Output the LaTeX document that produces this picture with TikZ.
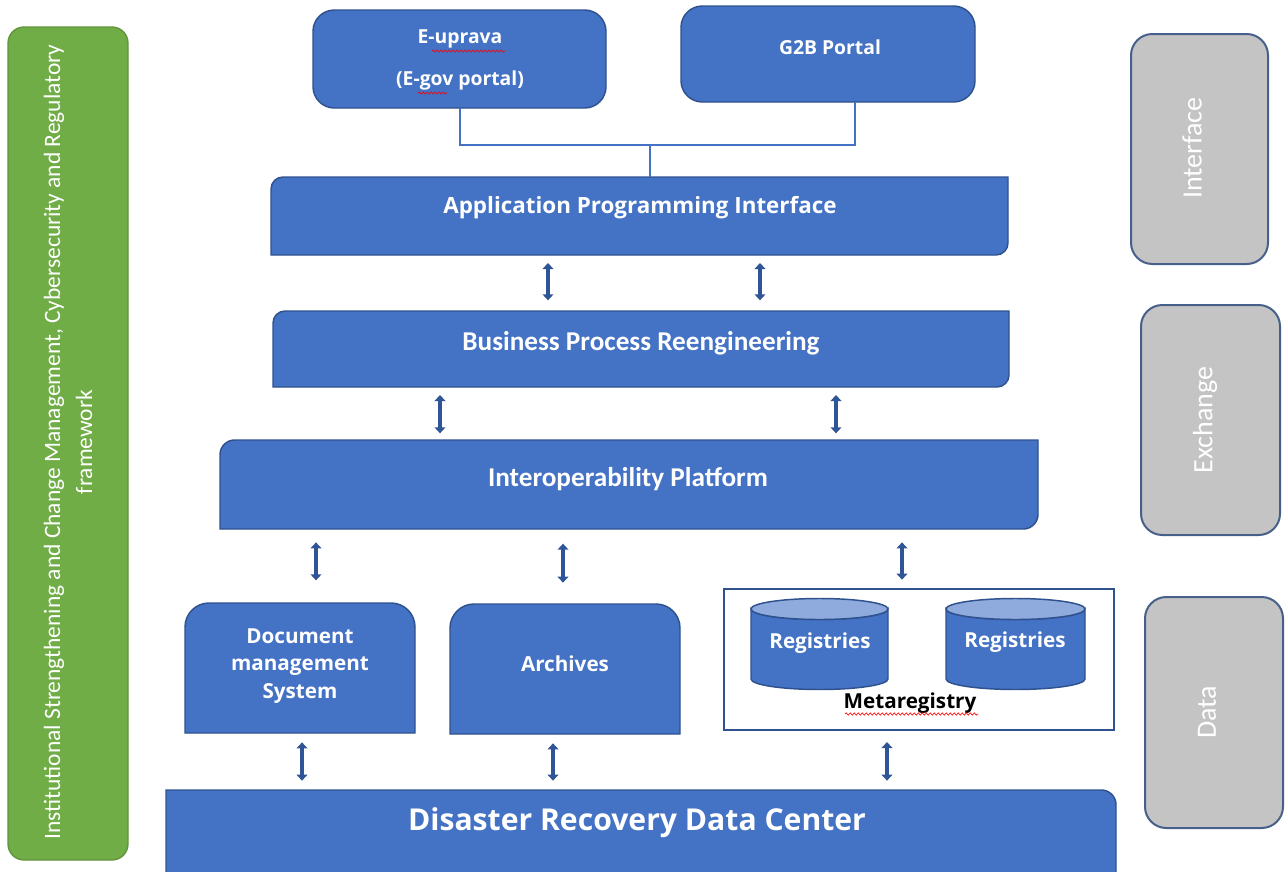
\documentclass[tikz,border=0pt]{standalone}
\usepackage{fontspec}
\setmainfont{Open Sans}
\newfontfamily\calfont{Carlito}
\usetikzlibrary{arrows.meta,fit,decorations.pathmorphing}

\definecolor{boxblue}{HTML}{4472C4}
\definecolor{edgeblue}{HTML}{2F528F}
\definecolor{arrowblue}{HTML}{2F5597}
\definecolor{lidblue}{HTML}{8FAADC}
\definecolor{sidegray}{HTML}{C4C4C4}
\definecolor{framegreen}{HTML}{70AD47}

% box with rounded top-left and bottom-right corners
\newcommand\paintdiag[2]{%
  \path[boxpaint] (#1.west) [rounded corners=#2] -- (#1.north west) -- (#1.north)
    [sharp corners] -- (#1.north east) -- (#1.east)
    [rounded corners=#2] -- (#1.south east) -- (#1.south)
    [sharp corners] -- (#1.south west) -- cycle;}
% box with both top corners rounded
\newcommand\painttop[2]{%
  \path[boxpaint] (#1.west) [rounded corners=#2] -- (#1.north west) -- (#1.north east) -- (#1.east)
    [sharp corners] -- (#1.south east) -- (#1.south west) -- cycle;}
% box with only the top-right corner rounded
\newcommand\paintne[2]{%
  \path[boxpaint] (#1.north) [rounded corners=#2] -- (#1.north east) -- (#1.east)
    [sharp corners] -- (#1.south east) -- (#1.south west) -- (#1.north west) -- cycle;}
% database cylinder: centre x, half width, top and bottom lid centres, lid half height
\newcommand\cyl[5]{%
  \path[fill=boxblue, draw=edgeblue, line width=1.1pt]
    ({#1-#2},#3) -- ({#1-#2},#4) arc[start angle=180, end angle=0, x radius=#2, y radius=#5]
    -- ({#1+#2},#3) arc[start angle=0, end angle=180, x radius=#2, y radius=#5] -- cycle;
  \path[fill=lidblue, draw=edgeblue, line width=1.1pt] (#1,#3) ellipse[x radius=#2, y radius=#5];}

\begin{document}
\begin{tikzpicture}[x=0.75pt, y=-0.75pt,
  area/.style={inner sep=0pt, outer sep=0pt},
  boxpaint/.style={fill=boxblue, draw=edgeblue, line width=1.1pt},
  sidepaint/.style={fill=sidegray, draw=edgeblue!70!gray, line width=1.5pt, rounded corners=16pt},
  lbl/.style={text=white, inner sep=0pt, align=center, font=\bfseries\fontsize{15.5}{18}\selectfont},
  toplbl/.style={lbl, font=\bfseries\fontsize{14.5}{31.5}\selectfont},
  callbl/.style={text=white, inner sep=0pt, align=center, font=\calfont\bfseries\fontsize{20.4}{24}\selectfont},
  sidelbl/.style={text=white, inner sep=0pt, rotate=90, font=\calfont\fontsize{21}{24}\selectfont},
  link/.style={draw=boxblue, line width=1.5pt},
  dbl/.style={draw=arrowblue, line width=2.6pt,
    {Triangle[width=8pt,length=4.5pt]}-{Triangle[width=8pt,length=4.5pt]}},
  spell/.style={draw=red, line width=0.5pt, decorate,
    decoration={snake, amplitude=0.8pt, segment length=3pt}}
]
\useasboundingbox (0,0) rectangle (1285,871);

% ---- outlines of all blocks
\node[area, fit={(8,27) (128,860)}] (frame) {};
\node[area, fit={(1131,34) (1268,264)}] (sideA) {};
\node[area, fit={(1141,305) (1280,535)}] (sideB) {};
\node[area, fit={(1145,597) (1283,828)}] (sideC) {};
\node[area, fit={(313,10) (606,108)}] (eup) {};
\node[area, fit={(681,6) (975,102)}] (g2b) {};
\node[area, fit={(271,177) (1008,255)}] (api) {};
\node[area, fit={(273,311) (1009,387)}] (bpr) {};
\node[area, fit={(220,440) (1038,529)}] (iop) {};
\node[area, fit={(185,603) (415,733)}] (dms) {};
\node[area, fit={(450,604) (680,734)}] (arc) {};
\node[area, fit={(724,589) (1114,730)}] (meta) {};
\node[area, fit={(166,790) (1116,900)}] (drdc) {};

% ---- side bands
\path[fill=framegreen, draw=framegreen!85!black, line width=1pt, rounded corners=12pt]
  (frame.north west) rectangle (frame.south east);
\path[sidepaint] (sideA.north west) rectangle (sideA.south east);
\path[sidepaint] (sideB.north west) rectangle (sideB.south east);
\path[sidepaint] (sideC.north west) rectangle (sideC.south east);

% ---- blue blocks
\path[boxpaint, rounded corners=16pt] (eup.north west) rectangle (eup.south east);
\path[boxpaint, rounded corners=16pt] (g2b.north west) rectangle (g2b.south east);
\paintdiag{api}{9pt}
\paintdiag{bpr}{9pt}
\paintdiag{iop}{11pt}
\painttop{dms}{18pt}
\painttop{arc}{18pt}
\path[fill=white, draw=edgeblue, line width=1.1pt] (meta.north west) rectangle (meta.south east);
\paintne{drdc}{11pt}
\cyl{819.5}{68.5}{609}{679}{10.5}
\cyl{1015.5}{69.5}{609}{679}{10.5}

% ---- labels
\node[text=white, inner sep=0pt, rotate=90, align=center,
  font=\calfont\fontsize{17.6}{24}\selectfont] (frametxt) at (68,442)
  {Institutional Strengthening and Change Management, Cybersecurity and Regulatory\\framework};
\node[sidelbl] (sideAt) at (1192,148) {Interface};
\node[sidelbl] (sideBt) at (1205,420) {Exchange};
\node[sidelbl] (sideCt) at (1207,712) {Data};

\node[toplbl] (eupt) at (460,60) {E-uprava\\(E-gov portal)};
\node[toplbl] (g2bt) at (830,47) {G2B Portal};
\node[lbl, font=\bfseries\fontsize{16.8}{20}\selectfont] (apit) at (640,208) {Application Programming Interface};
\node[callbl] (bprt) at (641,343) {Business Process Reengineering};
\node[callbl] (iopt) at (628,479) {Interoperability Platform};
\node[lbl, font=\bfseries\fontsize{15.5}{20.6}\selectfont] (dmst) at (300,666) {Document\\management\\System};
\node[lbl] (arct) at (565,664) {Archives};
\node[lbl] (reg1) at (820,643) {Registries};
\node[lbl] (reg2) at (1015,642) {Registries};
\node[lbl, text=black] (metat) at (910,703) {Metaregistry};
\node[lbl, font=\bfseries\fontsize{22.6}{26}\selectfont] (drdct) at (637,823) {Disaster Recovery Data Center};

% spell-check marks
\draw[spell] (432,51) -- (505,51);
\draw[spell] (418,93) -- (447,93);
\draw[spell] (845,714) -- (978,714);

% ---- portal links into the API
\coordinate (join) at (650,145);
\coordinate (g2bx) at (855,0);
\draw[link] (eup.south) |- (join);
\draw[link] (g2b.south -| g2bx) -- (g2bx |- join) -- (join);
\draw[link] (join) -- (join |- api.north);

% ---- two-way exchanges between layers
\coordinate (x1) at (548,0);
\coordinate (x2) at (760,0);
\coordinate (x3) at (440,0);
\coordinate (x4) at (836,0);
\coordinate (x5) at (316,0);
\coordinate (x6) at (563,0);
\coordinate (x7) at (902,0);
\coordinate (x8) at (302,0);
\coordinate (x9) at (553,0);
\coordinate (x10) at (887,0);
\draw[dbl, shorten <=6pt, shorten >=8pt] (api.south -| x1) -- (bpr.north -| x1);
\draw[dbl, shorten <=6pt, shorten >=8pt] (api.south -| x2) -- (bpr.north -| x2);
\draw[dbl, shorten <=6pt, shorten >=5pt] (bpr.south -| x3) -- (iop.north -| x3);
\draw[dbl, shorten <=6pt, shorten >=5pt] (bpr.south -| x4) -- (iop.north -| x4);
\draw[dbl, shorten <=10pt, shorten >=17pt] (iop.south -| x5) -- (dms.north -| x5);
\draw[dbl, shorten <=11pt, shorten >=16pt] (iop.south -| x6) -- (arc.north -| x6);
\draw[dbl, shorten <=10pt, shorten >=7pt] (iop.south -| x7) -- (meta.north -| x7);
\draw[dbl, shorten <=7pt, shorten >=7pt] (dms.south -| x8) -- (drdc.north -| x8);
\draw[dbl, shorten <=7pt, shorten >=7pt] (arc.south -| x9) -- (drdc.north -| x9);
\draw[dbl, shorten <=9pt, shorten >=7pt] (meta.south -| x10) -- (drdc.north -| x10);
\end{tikzpicture}
\end{document}
